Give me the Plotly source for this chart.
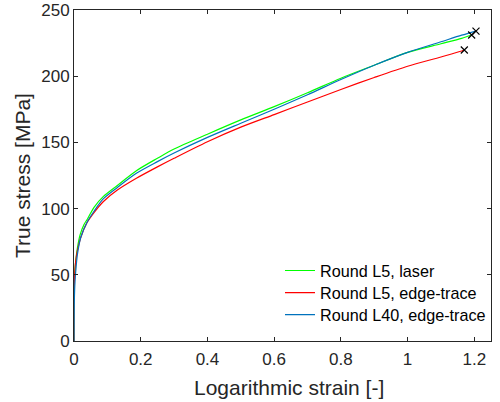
import plotly.graph_objects as go

# Round L5, laser (green)
green_x = [0, 0.0, 0.002, 0.005, 0.01, 0.018, 0.03, 0.04, 0.06, 0.0875, 0.13, 0.187, 0.25, 0.3, 0.4, 0.5, 0.6, 0.7, 0.8, 0.9, 1.0, 1.1, 1.162, 1.192]
green_y = [0, 40, 50, 60, 70, 80, 88, 92, 101, 109, 117.5, 128.6, 138, 145, 156.2, 167, 177, 187.5, 198.5, 208.3, 218, 224.5, 228.6, 231.1]

# Round L5, edge-trace (red)
red_x = [0, 0.0, 0.002, 0.005, 0.01, 0.02, 0.038, 0.06, 0.0875, 0.13, 0.187, 0.25, 0.3, 0.4, 0.5, 0.6, 0.7, 0.8, 0.9, 1.0, 1.1, 1.162, 1.17]
red_y = [0, 35, 50, 60, 68, 78, 89, 97, 105.2, 114, 122.9, 131.5, 138, 150.5, 161.5, 171, 180.5, 190, 199, 207.5, 214.5, 219, 219.8]

# Round L40, edge-trace (blue)
blue_x = [0, 0.001, 0.003, 0.006, 0.01, 0.02, 0.04, 0.06, 0.0875, 0.13, 0.187, 0.25, 0.3, 0.4, 0.5, 0.6, 0.7, 0.8, 0.9, 1.0, 1.1, 1.162, 1.205]
blue_y = [0, 30, 45, 55, 65, 78, 90, 98, 107.3, 116, 126.7, 135.5, 142, 153.8, 164.5, 175, 186, 197.5, 208.3, 218, 226, 231, 234.1]

# Fracture points
end_x = [1.192, 1.17, 1.205]
end_y = [231.1, 219.8, 234.1]

x_ticks = [0, 0.2, 0.4, 0.6, 0.8, 1.0, 1.2]
x_ticklabels = ["0", "0.2", "0.4", "0.6", "0.8", "1", "1.2"]
y_ticks = [0, 50, 100, 150, 200, 250]

fig = go.Figure()
fig.add_trace(go.Scatter(x=green_x, y=green_y, mode="lines", name="Round L5, laser", legend="legend",
                         line=dict(color="#00FF00", width=1.2, shape="spline", smoothing=0.8)))
fig.add_trace(go.Scatter(x=red_x, y=red_y, mode="lines", name="Round L5, edge-trace", legend="legend2",
                         line=dict(color="#FF0000", width=1.2, shape="spline", smoothing=0.8)))
fig.add_trace(go.Scatter(x=blue_x, y=blue_y, mode="lines", name="Round L40, edge-trace", legend="legend3",
                         line=dict(color="#0072BD", width=1.2, shape="spline", smoothing=0.8)))
fig.add_trace(go.Scatter(x=end_x, y=end_y, mode="markers", showlegend=False,
                         marker=dict(symbol="x-thin", size=7, line=dict(color="black", width=1.2))))

axis_common = dict(showline=True, linecolor="#262626", linewidth=1, mirror="ticks",
                   ticks="inside", ticklen=4, tickcolor="#262626", showgrid=False,
                   zeroline=False, automargin=False, tickfont=dict(size=17, color="#262626"))

leg_common = dict(x=0.494, xanchor="left", yanchor="middle", bgcolor="rgba(0,0,0,0)",
                  borderwidth=0, font=dict(size=16.2, color="#000000"))

fig.update_layout(
    width=500, height=402,
    margin=dict(l=74, r=9, t=10, b=61),
    paper_bgcolor="white", plot_bgcolor="white",
    font=dict(family="Liberation Sans, Arial, sans-serif", color="#262626"),
    xaxis=dict(range=[0, 1.25], tickvals=x_ticks, ticktext=x_ticklabels,
               ticklabelstandoff=3, **axis_common),
    yaxis=dict(range=[0, 250], tickvals=y_ticks,
               title=dict(text="True stress [MPa]", font=dict(size=21), standoff=4), **axis_common),
    legend=dict(y=0.2115, **leg_common),
    legend2=dict(y=0.145, **leg_common),
    legend3=dict(y=0.0785, **leg_common),
    showlegend=True,
    annotations=[dict(text="Logarithmic strain [-]", xref="paper", yref="paper",
                      x=0.5156, y=-0.139, xanchor="center", yanchor="middle",
                      showarrow=False, font=dict(size=21, color="#262626"))],
)

fig.write_html("out.html")
